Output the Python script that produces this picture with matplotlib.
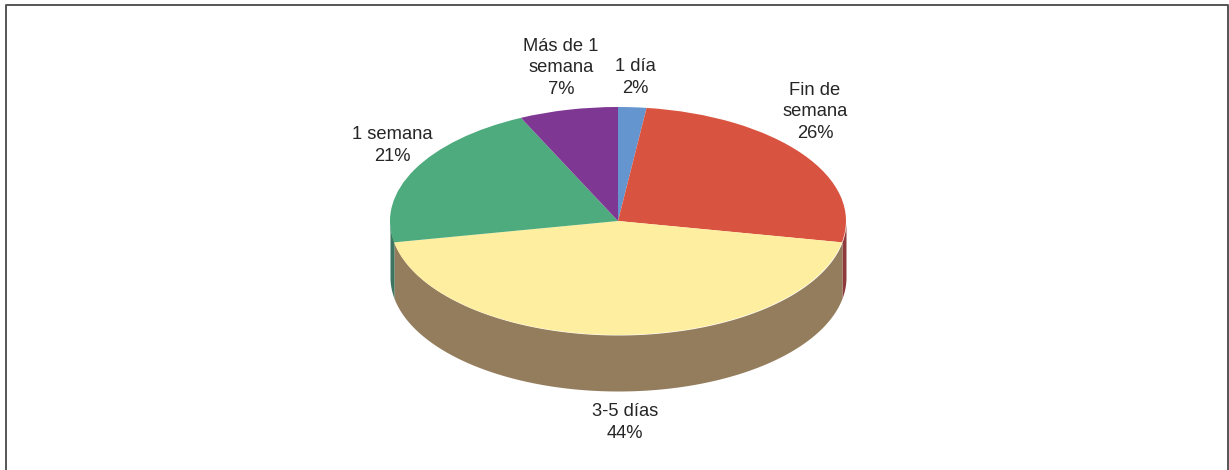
import numpy as np
import matplotlib
matplotlib.use('Agg')
import matplotlib.pyplot as plt

plt.rcParams['font.family'] = ['Liberation Sans', 'DejaVu Sans']

# datos
categorias = ['1 día', 'Fin de\nsemana', '3-5 días', '1 semana', 'Más de 1\nsemana']
valores = [2, 26, 44, 21, 7]
colores = ['#6595cf', '#d95440', '#feee9f', '#4eab7e', '#7f3794']
colores_lado = ['#4a6f9a', '#8f3a3c', '#937d5c', '#3e7560', '#5e2a6e']

W, H = 1229, 470
cx, cy = 618, 221  # centro de la elipse
rx, ry = 228, 114
prof = 56 / ry  # grosor del disco

fig = plt.figure(figsize=(W / 100, H / 100), dpi=100)

# marco
fondo = fig.add_axes([0, 0, 1, 1])
fondo.set_xlim(0, W)
fondo.set_ylim(H, 0)
fondo.axis('off')
fondo.plot([5.5, 5.5, 1227.5, 1227.5], [H, 4.5, 4.5, H], color='#555555', lw=1.4)

# la tarta ocupa justo la elipse superior
ax = fig.add_axes([(cx - rx) / W, (H - cy - ry) / H, 2 * rx / W, 2 * ry / H])
ax.patch.set_alpha(0)

# lado del disco, solo la parte de delante
acum = np.cumsum([0] + valores) / sum(valores) * 360
for i in range(len(valores)):
    a0 = max(acum[i], 90)
    a1 = min(acum[i + 1], 270)
    if a1 <= a0:
        continue
    t = np.radians(np.linspace(a0, a1, 200))
    ax.fill_between(np.sin(t), np.cos(t), np.cos(t) - prof, color=colores_lado[i],
                    lw=0, clip_on=False)

wedges, _ = ax.pie(valores, colors=colores, startangle=90, counterclock=False,
                   wedgeprops={'linewidth': 0})
for w in wedges:
    w.set_clip_on(False)
ax.set_aspect('auto')
ax.set_xlim(-1, 1)
ax.set_ylim(-1, 1)

# etiquetas
pos_x = [635, 815, 625, 392, 561]
pos_y = [97, 142, 442, 165, 98]
for nombre, v, x, y in zip(categorias, valores, pos_x, pos_y):
    fondo.text(x, y, f'{nombre}\n{v}%', ha='center', va='bottom', fontsize=13.2,
               color='#262626', linespacing=1.36)

fig.savefig('out.png', dpi=100)
